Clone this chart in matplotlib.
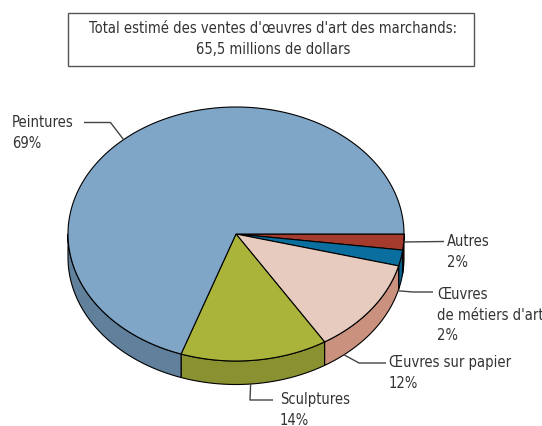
import numpy as np
import matplotlib.pyplot as plt
from matplotlib.patches import Polygon, Rectangle

plt.rcParams['font.family'] = ['DejaVu Sans']
plt.rcParams['font.stretch'] = 'condensed'

# data, clockwise from 3 o'clock
labels = ["Autres", "Œuvres\nde métiers d'art", "Œuvres sur papier", "Sculptures", "Peintures"]
shares = [2, 2, 12, 14, 69]
top_colors = ["#a53b2c", "#0a6e9f", "#e7cbbf", "#aab33a", "#7fa5c7"]
side_colors = ["#80291f", "#08608c", "#c9917e", "#8a9130", "#60809c"]
title = "Total estimé des ventes d'œuvres d'art des marchands:\n65,5 millions de dollars"

# layout (pixels, y down)
cx, cy, rx, ry, depth = 236, 234, 168, 127, 23.5
TXT = "#333333"
FS = 10.5


def ellipse_pts(t0, t1, dy=0.0, n=200):
    t = np.radians(np.linspace(t0, t1, n))
    return np.column_stack([cx + rx * np.cos(t), cy + ry * np.sin(t) + dy])


fig = plt.figure(figsize=(5.42, 4.26), dpi=100)
ax = fig.add_axes([0, 0, 1, 1])
ax.set_xlim(0, 542)
ax.set_ylim(426, 0)
ax.axis('off')

edges = np.concatenate([[0], np.cumsum(shares)]) / sum(shares) * 360

# side walls (front half only)
for i in range(len(shares)):
    a, b = max(edges[i], 0), min(edges[i + 1], 180)
    if b <= a:
        continue
    top = ellipse_pts(a, b)
    bot = ellipse_pts(b, a, dy=depth)
    ax.add_patch(Polygon(np.vstack([top, bot]), closed=True, fc=side_colors[i],
                         ec="black", lw=0.8, joinstyle="round"))

# top face
for i in range(len(shares)):
    arc = ellipse_pts(edges[i], edges[i + 1])
    ax.add_patch(Polygon(np.vstack([[cx, cy], arc]), closed=True, fc=top_colors[i],
                         ec="black", lw=0.8, joinstyle="round"))

# title box
ax.add_patch(Rectangle((68, 12.5), 406, 53, fc="white", ec="#555555", lw=1.0))
ax.text(273, 39, title, ha="center", va="center", fontsize=FS, color=TXT,
        linespacing=1.45)


def leader(t, dz, pts):
    x0 = cx + rx * np.cos(np.radians(t))
    y0 = cy + ry * np.sin(np.radians(t)) + dz
    xs = [x0] + [p[0] for p in pts]
    ys = [y0] + [p[1] for p in pts]
    ax.plot(xs, ys, color="#444444", lw=1.0, solid_capstyle="butt")


label_kw = dict(ha="left", va="center", fontsize=FS, color=TXT, linespacing=1.45)

# Peintures
leader(228, 0, [(110.5, 122.5), (84, 122.5)])
ax.text(12, 133, labels[4] + "\n69%", **label_kw)
# Autres
leader(3.6, 0, [(444, 241.5)])
ax.text(447, 252, labels[0] + "\n2%", **label_kw)
# metiers d'art
leader(15.2, depth, [(413, 292), (433, 292)])
ax.text(437, 315, labels[1] + "\n2%", **label_kw)
# papier
leader(50, depth, [(359, 363), (386, 363)])
ax.text(389, 373, labels[2] + "\n12%", **label_kw)
# sculptures
leader(85, depth, [(250, 400), (273, 400)])
ax.text(280, 410, labels[3] + "\n14%", **label_kw)

fig.savefig("out.png", dpi=100)
